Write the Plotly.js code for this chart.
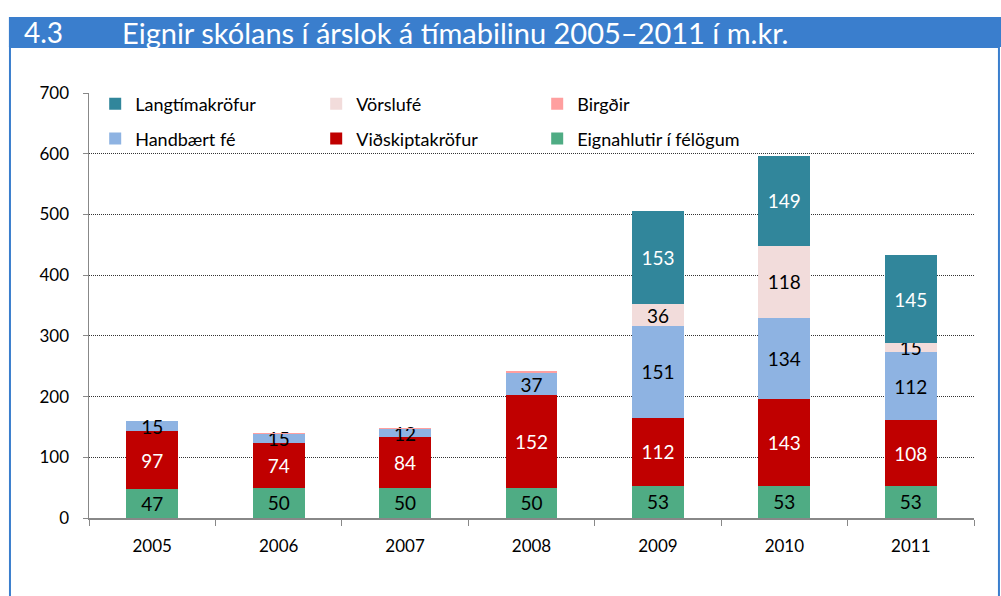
<!DOCTYPE html>
<html>
<head>
<meta charset="utf-8">
<script src="https://cdn.plot.ly/plotly-3.0.1.min.js"></script>
<style>
  html, body { margin: 0; padding: 0; background: #fff; }
  #myDiv { width: 1001px; height: 596px; }
</style>
</head>
<body>
<div id="myDiv"></div>
<script>
// data (m.kr.)
var years = ["2005", "2006", "2007", "2008", "2009", "2010", "2011"];
var eignahlutir = [47, 50, 50, 50, 53, 53, 53];
var vidskiptakrofur = [97, 74, 84, 152, 112, 143, 108];
var handbaert = [15, 15, 12, 37, 151, 134, 112];
var birgdir = [1, 1, 2, 3, 0, 0, 0];
var vorslufe = [0, 0, 0, 0, 36, 118, 15];
var langtima = [0, 0, 0, 0, 153, 149, 145];

var blue = "rgb(58, 126, 205)";
var font = "Lato, 'Liberation Sans', sans-serif";

function labels(vals) {
    return vals.map(function (v) { return v ? String(v) : ""; });
}

function makeTrace(name, vals, color, textColor, legend, showText) {
    return {
        type: "bar",
        name: name,
        x: years,
        y: vals,
        legend: legend,
        marker: { color: color },
        text: showText ? labels(vals) : null,
        textposition: showText ? "inside" : "none",
        insidetextanchor: "middle",
        textangle: 0,
        textfont: { family: font, size: 19, color: textColor },
        hoverinfo: "x+y+name"
    };
}

// stacking order bottom -> top
var data = [
    makeTrace("Eignahlutir í félögum", eignahlutir, "#4fac84", "#000", "legend2", true),
    makeTrace("Viðskiptakröfur", vidskiptakrofur, "#c00000", "#fff", "legend2", true),
    makeTrace("Handbært fé", handbaert, "#8eb3e2", "#000", "legend2", true),
    makeTrace("Birgðir", birgdir, "#ff9f9f", "#000", "legend", false),
    makeTrace("Vörslufé", vorslufe, "#f2dcdb", "#000", "legend", true),
    makeTrace("Langtímakröfur", langtima, "#31869b", "#fff", "legend", true)
];

var legendBase = {
    orientation: "h",
    xanchor: "left",
    yanchor: "middle",
    traceorder: "reversed",
    entrywidth: 176,
    entrywidthmode: "pixels",
    bgcolor: "rgba(0,0,0,0)",
    font: { family: font, size: 18, color: "#000" }
};

var layout = {
    width: 1001,
    height: 596,
    margin: { l: 89, r: 27, t: 93, b: 78 },
    paper_bgcolor: "#fff",
    plot_bgcolor: "#fff",
    font: { family: font, size: 17, color: "#000" },
    barmode: "stack",
    bargap: 0.59,
    uniformtext: { mode: "show", minsize: 19 },
    showlegend: true,
    legend: Object.assign({}, legendBase, { x: 0.007, y: 0.974 }),
    legend2: Object.assign({}, legendBase, { x: 0.007, y: 0.892 }),
    xaxis: {
        type: "category",
        tickson: "boundaries",
        ticks: "outside",
        ticklen: 6,
        tickcolor: "#888",
        showline: true,
        linecolor: "#888",
        linewidth: 1.5,
        showgrid: false,
        tickfont: { family: font, size: 17, color: "#000" },
        ticklabelstandoff: 12
    },
    yaxis: {
        range: [0, 700],
        dtick: 100,
        showgrid: true,
        griddash: "1px,1px",
        gridcolor: "#333",
        gridwidth: 1,
        zeroline: false,
        showline: true,
        linecolor: "#888",
        linewidth: 1.5,
        ticks: "outside",
        ticklen: 5,
        tickcolor: "#888",
        tickfont: { family: font, size: 17, color: "#000" },
        ticklabelstandoff: 10
    },
    shapes: [
        // frame around the figure
        {
            type: "rect", xref: "paper", yref: "paper",
            x0: -0.0893, x1: 1.0282, y0: -0.25, y1: 1.108,
            line: { color: blue, width: 2 }, fillcolor: "rgba(0,0,0,0)", layer: "below"
        },
        // title bar
        {
            type: "rect", xref: "paper", yref: "paper",
            x0: -0.0905, x1: 1.04, y0: 1.108, y1: 1.1788,
            line: { width: 0 }, fillcolor: blue
        }
    ],
    annotations: [
        {
            xref: "paper", yref: "paper", x: -0.0757, y: 1.143,
            xanchor: "left", yanchor: "middle", showarrow: false,
            text: "4.3", font: { family: font, size: 28, color: "#fff" }
        },
        {
            xref: "paper", yref: "paper", x: 0.035, y: 1.143,
            xanchor: "left", yanchor: "middle", showarrow: false,
            text: "Eignir skólans í árslok á tímabilinu 2005–2011 í m.kr.",
            font: { family: font, size: 29, color: "#fff" }
        }
    ]
};

Plotly.newPlot("myDiv", data, layout, { displayModeBar: false, staticPlot: true });
</script>
</body>
</html>
